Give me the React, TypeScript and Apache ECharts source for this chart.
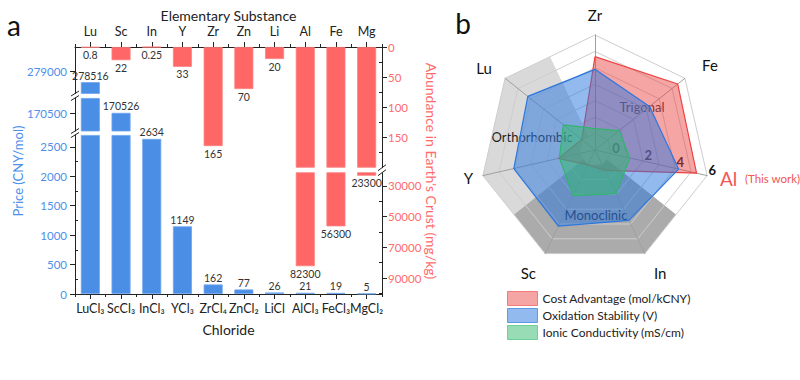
import React, { useEffect, useRef } from 'react';
import * as echarts from 'echarts';

// ---------- data ----------
const elements = ['Lu', 'Sc', 'In', 'Y', 'Zr', 'Zn', 'Li', 'Al', 'Fe', 'Mg'];
const chlorides = ['LuCl₃', 'ScCl₃', 'InCl₃', 'YCl₃', 'ZrCl₄', 'ZnCl₂', 'LiCl', 'AlCl₃', 'FeCl₃', 'MgCl₂'];
const prices = [278516, 170526, 2634, 1149, 162, 77, 26, 21, 19, 5];
const abundance = [0.8, 22, 0.25, 33, 165, 70, 20, 82300, 56300, 23300];

// broken price axis: segments bottom -> top
const priceSegMin = [0, 169800, 278010];
const priceSegMax = [2700, 171120, 280080];
const priceLabels = [[0, 500, 1000, 1500, 2000, 2500], [170500], [279000]];
const priceMinor = [[250, 750, 1250, 1750, 2250], [], []];

// broken abundance axis: segments top -> bottom
const abundSegMin = [0, 21330];
const abundSegMax = [201, 100430];
const abundLabels = [[0, 50, 100, 150], [30000, 50000, 70000, 90000]];
const abundMinor = [[25, 75, 125, 175], [40000, 60000, 80000, 100000]];

// radar (ECharts order, counter-clockwise from top)
const radarAxes = ['Zr', 'Lu', 'Y', 'Sc', 'In', 'Al', 'Fe'];
const costAdvantage = [4.68, 0.03, 1.29, 0.01, 0.38, 5.34, 5.44];
const oxidationStability = [3.91, 4.23, 4.07, 4.14, 3.76, 4.22, 3.25];
const ionicConductivity = [0.3, 1.46, 1.22, 2.08, 1.95, 1.17, 0.89];
const radarMin = -1;
const radarMax = 6;
const radarTickLabels = [0, 2, 4, 6];
const seriesNames = ['Cost Advantage (mol/kCNY)', 'Oxidation Stability (V)', 'Ionic Conductivity (mS/cm)'];

// ---------- layout / style ----------
const FONT = 'Lato, "Noto Sans", sans-serif';
const X0 = 75;
const X1 = 382;
const priceGrid = [
  { top: 135, bottom: 294 },
  { top: 98, bottom: 131 },
  { top: 47, bottom: 93.5 },
];
const abundGrid = [
  { top: 47, bottom: 167.7 },
  { top: 172.7, bottom: 294 },
];
const radarNameGap: Record<string, number> = { Zr: 13, Lu: 17, Y: 10, Sc: 21, In: 21, Al: 10, Fe: 22 };
const BLUE = '#4a8ee6';
const BLUE_TXT = '#4b90ea';
const RED = '#ff6666';
const RED_TXT = '#ff6b6b';
const AX = '#222';

const RC = [595, 150];
const RR = 115;

function radarPoint(k: number, r: number) {
  const n = radarAxes.length;
  const p = (j: number) => {
    const a = Math.PI / 2 + (j % n) * (2 * Math.PI) / n;
    return [RC[0] + r * Math.cos(a), RC[1] - r * Math.sin(a)];
  };
  const f = Math.floor(k);
  if (k === f) return p(f);
  const a = p(f);
  const b = p(f + 1);
  const t = k - f;
  return [a[0] + (b[0] - a[0]) * t, a[1] + (b[1] - a[1]) * t];
}
function wedge(k0: number, k1: number, rIn: number, rOut: number) {
  const ks: number[] = [k0];
  for (let k = Math.ceil(k0); k <= Math.floor(k1); k++) if (k !== k0 && k !== k1) ks.push(k);
  ks.push(k1);
  return [...ks.map((k) => radarPoint(k, rOut)), ...ks.slice().reverse().map((k) => radarPoint(k, rIn))];
}

function gridOf(top: number, bottom: number) {
  return { left: X0, width: X1 - X0, top, height: bottom - top, containLabel: false, outerBoundsMode: 'none' };
}

function buildOption() {
  const grids: any[] = [];
  const xAxes: any[] = [];
  const yAxes: any[] = [];
  const series: any[] = [];

  priceGrid.forEach((g) => grids.push(gridOf(g.top, g.bottom)));
  abundGrid.forEach((g) => grids.push(gridOf(g.top, g.bottom)));

  const lineStyle = { color: AX, width: 1 };

  // x axes
  xAxes.push({
    type: 'category', gridIndex: 0, position: 'bottom', data: chlorides,
    axisLine: { show: true, lineStyle },
    axisTick: { show: true, alignWithLabel: true, length: 5, lineStyle },
    axisLabel: { show: true, interval: 0, color: AX, fontSize: 12.5, margin: 8, fontFamily: FONT },
    splitLine: { show: false },
    name: 'Chloride', nameLocation: 'middle', nameGap: 28,
    nameTextStyle: { fontSize: 14, color: AX, fontFamily: FONT },
  });
  xAxes.push({ type: 'category', gridIndex: 1, show: false, data: chlorides });
  xAxes.push({
    type: 'category', gridIndex: 2, position: 'top', data: elements,
    axisLine: { show: false }, axisTick: { show: true, length: 3, interval: 0, lineStyle },
    axisLabel: { show: false }, splitLine: { show: false },
  });
  xAxes.push({
    type: 'category', gridIndex: 3, position: 'top', data: elements,
    axisLine: { show: true, lineStyle },
    axisTick: { show: true, alignWithLabel: true, length: 5, lineStyle },
    axisLabel: { show: true, interval: 0, color: AX, fontSize: 12.5, margin: 9, fontFamily: FONT },
    splitLine: { show: false },
    name: 'Elementary Substance', nameLocation: 'middle', nameGap: 25,
    nameTextStyle: { fontSize: 14, color: AX, fontFamily: FONT },
  });
  xAxes.push({
    type: 'category', gridIndex: 4, position: 'bottom', data: chlorides,
    axisLine: { show: false }, axisTick: { show: true, length: 3, interval: 0, lineStyle },
    axisLabel: { show: false }, splitLine: { show: false },
  });

  // y axes: price 0..2
  priceSegMin.forEach((mn, i) => {
    yAxes.push({
      type: 'value', gridIndex: i, position: 'left', min: mn, max: priceSegMax[i],
      axisLine: { show: true, lineStyle },
      axisTick: { show: true, inside: false, length: 5, customValues: priceLabels[i], lineStyle },
      axisLabel: {
        show: true, customValues: priceLabels[i], color: BLUE_TXT, fontSize: 11.5, margin: 8,
        fontFamily: FONT, formatter: (v: number) => String(v),
      },
      splitLine: { show: false },
    });
  });
  // abundance 3..4
  abundSegMin.forEach((mn, i) => {
    yAxes.push({
      type: 'value', gridIndex: 3 + i, position: 'right', inverse: true, min: mn, max: abundSegMax[i],
      axisLine: { show: true, lineStyle },
      axisTick: { show: true, inside: false, length: 5, customValues: abundLabels[i], lineStyle },
      axisLabel: {
        show: true, customValues: abundLabels[i], color: RED_TXT, fontSize: 11.5, margin: 6,
        fontFamily: FONT, formatter: (v: number) => String(v),
      },
      splitLine: { show: false },
    });
  });
  // minor tick axes 5..7
  yAxes.push({
    type: 'value', gridIndex: 0, position: 'left', min: priceSegMin[0], max: priceSegMax[0],
    axisLine: { show: false }, axisLabel: { show: false }, splitLine: { show: false },
    axisTick: { show: true, inside: true, length: 3, customValues: priceMinor[0], lineStyle },
  });
  abundSegMin.forEach((mn, i) => {
    yAxes.push({
      type: 'value', gridIndex: 3 + i, position: 'right', inverse: true, min: mn, max: abundSegMax[i],
      axisLine: { show: false }, axisLabel: { show: false }, splitLine: { show: false },
      axisTick: { show: true, inside: true, length: 3, customValues: abundMinor[i], lineStyle },
    });
  });

  // bar series
  priceSegMin.forEach((mn, i) => {
    const mx = priceSegMax[i];
    series.push({
      type: 'bar', xAxisIndex: i, yAxisIndex: i, barWidth: 19, clip: true,
      itemStyle: { color: BLUE, borderColor: '#6ea5ee', borderWidth: 0.8 },
      label: {
        show: true, position: 'top', distance: 1, fontSize: 10.5, color: '#333', fontFamily: FONT,
        formatter: (p: any) => String(prices[p.dataIndex]),
      },
      data: prices.map((v) => (v < mn ? '-' : { value: Math.min(v, mx), label: { show: v <= mx } })),
    });
  });
  abundSegMin.forEach((mn, i) => {
    const mx = abundSegMax[i];
    series.push({
      type: 'bar', xAxisIndex: 3 + i, yAxisIndex: 3 + i, barWidth: 19, clip: true,
      itemStyle: { color: RED, borderColor: '#ff8080', borderWidth: 0.8 },
      label: {
        show: true, position: 'bottom', distance: 2, fontSize: 10.5, color: '#333', fontFamily: FONT,
        formatter: (p: any) => String(abundance[p.dataIndex]),
      },
      data: abundance.map((v) => (v < mn ? '-' : { value: Math.min(v, mx), label: { show: v <= mx } })),
    });
  });

  // radar
  const radarColors = [
    { line: '#ee4242', area: 'rgba(236,66,66,0.48)', legend: 'rgba(236,66,66,0.48)', border: 'rgba(236,66,66,0.6)' },
    { line: '#2f78de', area: 'rgba(40,118,222,0.5)', legend: 'rgba(40,118,222,0.5)', border: 'rgba(40,118,222,0.65)' },
    { line: '#34b36e', area: 'rgba(48,186,108,0.5)', legend: 'rgba(48,186,108,0.5)', border: 'rgba(48,186,108,0.6)' },
  ];
  const radarValues = [costAdvantage, oxidationStability, ionicConductivity];
  series.push({
    type: 'radar', radarIndex: 0, symbol: 'none', z: 3,
    data: radarValues.map((vals, i) => ({
      name: seriesNames[i], value: vals,
      lineStyle: { color: radarColors[i].line, width: 1.2 },
      itemStyle: { color: radarColors[i].line },
      areaStyle: { color: radarColors[i].area, opacity: 1 },
    })),
  });

  const r0 = (RR * (0 - radarMin)) / (radarMax - radarMin);

  const graphic: any[] = [
    { type: 'text', x: 14, y: 25, z: 10, style: { text: 'a', fontSize: 28, fontFamily: FONT, fill: '#111', align: 'center', verticalAlign: 'middle' } },
    { type: 'text', x: 463, y: 23, z: 10, style: { text: 'b', fontSize: 28, fontFamily: FONT, fill: '#111', align: 'center', verticalAlign: 'middle' } },
    {
      type: 'text', x: 18, y: 171, rotation: Math.PI / 2, z: 10,
      style: { text: 'Price (CNY/mol)', fontSize: 13, fontFamily: FONT, fill: BLUE_TXT, align: 'center', verticalAlign: 'middle' },
    },
    {
      type: 'text', x: 431, y: 171, rotation: -Math.PI / 2, z: 10,
      style: { text: "Abundance in Earth's Crust (mg/kg)", fontSize: 14, fontFamily: FONT, fill: RED_TXT, align: 'center', verticalAlign: 'middle' },
    },
    // radar background wedges
    { type: 'polygon', z: 0, shape: { points: wedge(0.5, 2.5, r0, RR) }, style: { fill: '#d9d9d9', stroke: 'none' } },
    { type: 'polygon', z: 0, shape: { points: wedge(2.5, 4.5, r0, RR) }, style: { fill: '#ababab', stroke: 'none' } },
    // phase labels
    { type: 'text', x: 642, y: 107, z: 1, style: { text: 'Trigonal', fontSize: 13, fontFamily: FONT, fill: '#2a2a2a', align: 'center', verticalAlign: 'middle' } },
    { type: 'text', x: 532, y: 137, z: 1, style: { text: 'Orthorhombic', fontSize: 13, fontFamily: FONT, fill: '#1e1e1e', align: 'center', verticalAlign: 'middle' } },
    { type: 'text', x: 596, y: 215, z: 1, style: { text: 'Monoclinic', fontSize: 13, fontFamily: FONT, fill: '#1e2a44', align: 'center', verticalAlign: 'middle' } },
  ];
  // axis break marks
  const brk = (x: number, y: number, dy: number) => ({
    type: 'line', z: 10, shape: { x1: x - 4, y1: y + dy, x2: x + 4, y2: y - dy }, style: { stroke: AX, lineWidth: 1 },
  });
  graphic.push(brk(X0, priceGrid[2].bottom, 2.5), brk(X0, priceGrid[1].top, 2.5));
  graphic.push(brk(X0, priceGrid[1].bottom, 2.5), brk(X0, priceGrid[0].top, 2.5));
  graphic.push(brk(X1, abundGrid[0].bottom, 3), brk(X1, abundGrid[1].top, 3));

  return {
    animation: false,
    backgroundColor: '#ffffff',
    textStyle: { fontFamily: FONT },
    grid: grids,
    xAxis: xAxes,
    yAxis: yAxes,
    radar: {
      z: 1,
      center: RC, radius: RR, startAngle: 90, splitNumber: radarMax - radarMin, shape: 'polygon',
      indicator: radarAxes.map((n) => ({
        name: n, min: radarMin, max: radarMax, nameGap: radarNameGap[n],
        ...(n === 'Al' ? { axisLabel: { show: true } } : {}),
      })),
      axisName: {
        color: '#111', fontSize: 15, fontFamily: FONT,
        formatter: (name: string) => (name === 'Al' ? '{al|Al}  {tw|(This work)}' : name),
        rich: {
          al: { fontSize: 19, color: '#f25555', fontFamily: FONT },
          tw: { fontSize: 11.5, color: '#f25555', fontFamily: FONT },
        },
      },
      nameGap: 10,
      axisLine: { show: true, lineStyle: { color: '#a0a0a0', width: 1 } },
      splitLine: { show: true, lineStyle: { color: '#cdcdcd', width: 1 } },
      splitArea: { show: false },
      axisTick: { show: false },
      axisLabel: {
        show: false, color: '#111', fontSize: 13, fontWeight: 'bold', fontFamily: FONT, margin: 6,
        formatter: (v: number) => (radarTickLabels.indexOf(Math.round(v * 1000) / 1000) >= 0 ? String(Math.round(v)) : ''),
      },
    },
    legend: {
      orient: 'vertical', left: 507, top: 291, padding: 0, itemWidth: 30, itemHeight: 14, itemGap: 2, icon: 'rect',
      selectedMode: false,
      textStyle: { fontSize: 12, color: '#222', fontFamily: FONT },
      data: seriesNames.map((n, i) => ({
        name: n, itemStyle: { color: radarColors[i].legend, borderColor: radarColors[i].border, borderWidth: 1 },
      })),
    },
    graphic: { elements: graphic },
    series,
  };
}

export default function App() {
  const ref = useRef<HTMLDivElement>(null);
  useEffect(() => {
    if (!ref.current) return;
    const chart = echarts.init(ref.current, null, { renderer: 'svg' });
    chart.setOption(buildOption() as any);
    return () => chart.dispose();
  }, []);
  return (
    <div
      ref={ref}
      style={{ position: 'fixed', left: 0, top: 0, width: 800, height: 380, background: '#fff' }}
    />
  );
}
